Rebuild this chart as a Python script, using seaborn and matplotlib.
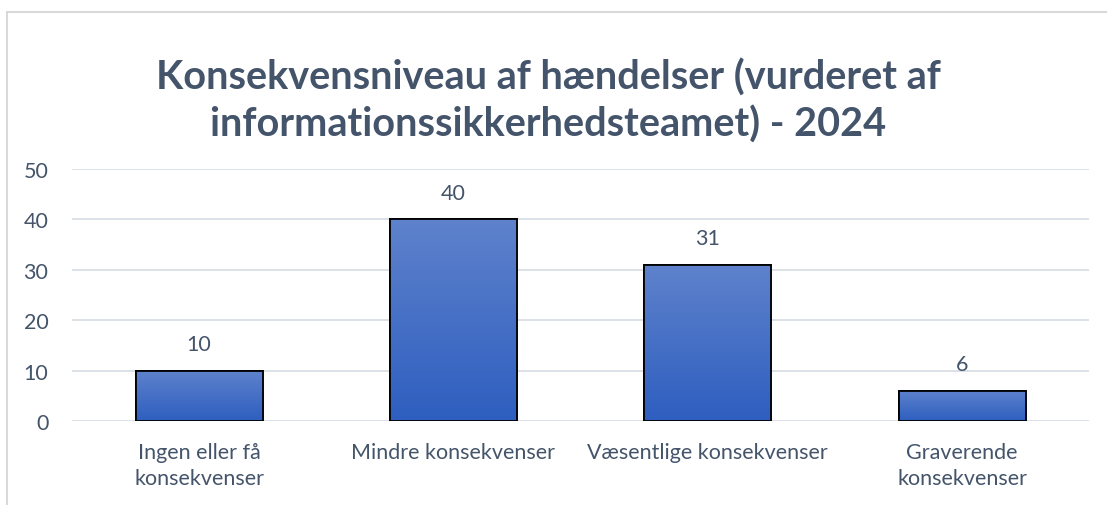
import matplotlib
matplotlib.use("Agg")
import matplotlib.pyplot as plt
import matplotlib.patches as mpatches
import seaborn as sns
import numpy as np
import pandas as pd

# chart data
categories = ["Ingen eller få\nkonsekvenser", "Mindre konsekvenser",
              "Væsentlige konsekvenser", "Graverende\nkonsekvenser"]
values = [10, 40, 31, 6]
y_ticks = [0, 10, 20, 30, 40, 50]
title = "Konsekvensniveau af hændelser (vurderet af\ninformationssikkerhedsteamet) - 2024"

text_col = "#44546A"
grid_col = "#D9DEE6"

sns.set_theme(style="white")
plt.rcParams['font.family'] = ['Lato', 'DejaVu Sans']

df = pd.DataFrame({"cat": categories, "val": values})

fig = plt.figure(figsize=(11.07, 5.06), dpi=100)
ax = fig.add_axes([0.065, 0.166, 0.919, 0.498])

sns.barplot(data=df, x="cat", y="val", ax=ax, width=0.5,
            color="#4472C4", edgecolor="black", linewidth=1.3, zorder=3)

# vertical gradient fill inside each bar
grad = np.linspace(0, 1, 256).reshape(-1, 1)
top = np.array([0.37, 0.51, 0.80])
bot = np.array([0.18, 0.37, 0.75])
img = (top * (1 - grad) + bot * grad).reshape(256, 1, 3)
for p in list(ax.patches):
    x0, w, h = p.get_x(), p.get_width(), p.get_height()
    im = ax.imshow(img, extent=[x0, x0 + w, 0, h], origin="upper",
                   aspect="auto", zorder=3.5)
    im.set_clip_path(p)
    ax.add_patch(mpatches.Rectangle((x0, 0), w, h, fill=False,
                                    edgecolor="black", linewidth=1.3, zorder=4))

for i, v in enumerate(values):
    ax.annotate(str(v), (i, v), xytext=(0, 12), textcoords="offset points",
                ha="center", va="bottom", fontsize=15.5, color=text_col)

ax.set_xlim(-0.5, len(values) - 0.5)
ax.set_ylim(0, 50)
ax.set_yticks(y_ticks)
ax.yaxis.grid(True, color=grid_col, linewidth=1.3, zorder=0)
ax.set_axisbelow(True)
for s in ax.spines.values():
    s.set_visible(False)
ax.tick_params(axis="both", length=0, labelsize=15.5, labelcolor=text_col)
ax.tick_params(axis="y", pad=17)
ax.tick_params(axis="x", pad=15)
for lbl in ax.get_xticklabels():
    lbl.set_linespacing(1.4)
ax.set_xlabel("")
ax.set_ylabel("")

fig.text(0.495, 0.80, title, ha="center", va="center", fontsize=28.5,
         fontweight="bold", color=text_col, linespacing=1.3)

# chart area border (cropped at right and bottom)
fig.add_artist(mpatches.Rectangle((7 / 1107, -0.1), 1.2, 1.1 - 13 / 506,
                                  transform=fig.transFigure, fill=False,
                                  edgecolor="#D9D9D9", linewidth=1.5))

fig.savefig("out.png", dpi=100)
